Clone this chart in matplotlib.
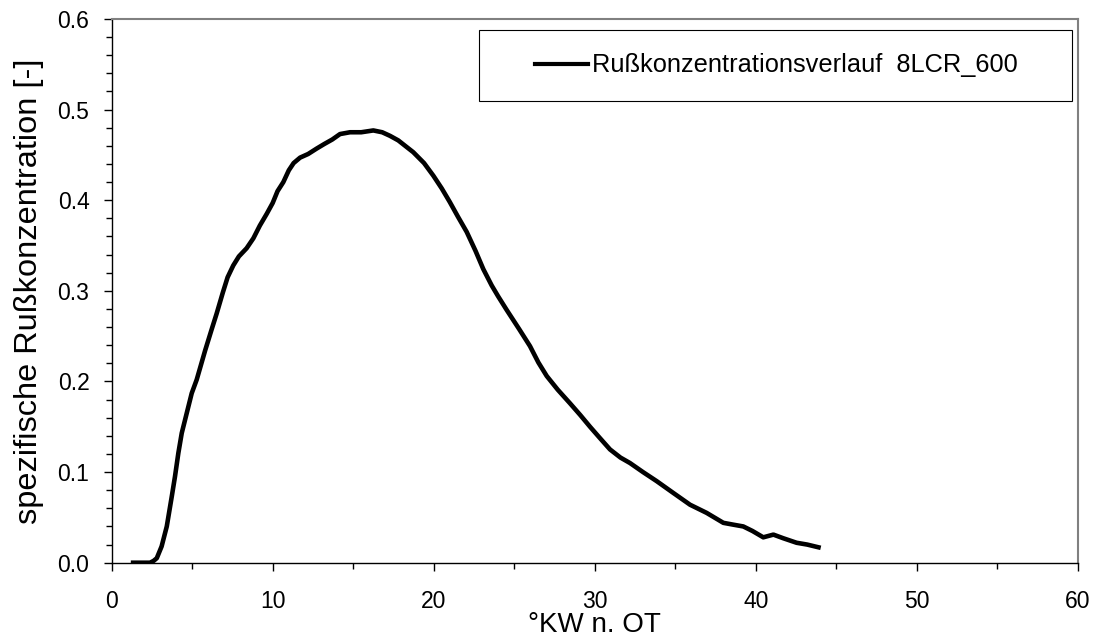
import matplotlib
matplotlib.use('Agg')
import matplotlib.pyplot as plt
from matplotlib.patches import Rectangle
from matplotlib.ticker import MultipleLocator, FormatStrFormatter

# Rußkonzentrationsverlauf 8LCR_600
kw = [1.33, 2.38, 2.6, 2.8, 3.1, 3.42, 3.73, 3.93, 4.14, 4.35, 4.66, 4.97,
      5.28, 5.8, 6.2, 6.52, 6.9, 7.2, 7.55, 7.9, 8.38, 8.8, 9.2, 9.63, 10.0,
      10.3, 10.66, 11.0, 11.3, 11.7, 12.2, 12.73, 13.2, 13.7, 14.18, 14.8,
      15.5, 16.25, 16.8, 17.29, 17.8, 18.3, 18.73, 19.4, 19.98, 20.5, 21.0,
      21.5, 22.05, 22.6, 23.08, 23.6, 24.0, 24.53, 25.3, 25.98, 26.5, 27.02,
      27.7, 28.46, 29.1, 29.71, 30.3, 30.95, 31.6, 32.19, 33.0, 33.85, 34.88,
      35.92, 36.95, 37.99, 38.6, 39.23, 39.8, 40.47, 41.1, 41.71, 42.54, 43.2,
      43.9]
russ = [0.0, 0.0, 0.002, 0.005, 0.018, 0.04, 0.073, 0.095, 0.121, 0.143,
        0.165, 0.187, 0.202, 0.234, 0.257, 0.275, 0.298, 0.315, 0.328, 0.338,
        0.347, 0.358, 0.372, 0.385, 0.397, 0.41, 0.42, 0.433, 0.441, 0.447,
        0.451, 0.457, 0.462, 0.467, 0.473, 0.475, 0.475, 0.477, 0.475, 0.471,
        0.466, 0.459, 0.453, 0.441, 0.427, 0.413, 0.398, 0.382, 0.365, 0.344,
        0.324, 0.306, 0.294, 0.279, 0.258, 0.239, 0.221, 0.206, 0.191, 0.176,
        0.163, 0.150, 0.138, 0.125, 0.116, 0.110, 0.100, 0.090, 0.077, 0.064,
        0.055, 0.044, 0.042, 0.040, 0.035, 0.028, 0.031, 0.027, 0.022, 0.020,
        0.017]
series_label = 'Rußkonzentrationsverlauf  8LCR_600'

plt.rcParams['font.family'] = ['Liberation Sans', 'DejaVu Sans']

fig = plt.figure(figsize=(10.93, 6.39), dpi=100)
ax = fig.add_axes([0.1022, 0.1194, 0.8838, 0.8509])

ax.plot(kw, russ, '-', color='black', lw=3.3, label=series_label,
        solid_joinstyle='round')

ax.set_xlim(0, 60)
ax.set_ylim(0, 0.6)
ax.xaxis.set_major_locator(MultipleLocator(10))
ax.xaxis.set_minor_locator(MultipleLocator(5))
ax.yaxis.set_major_locator(MultipleLocator(0.1))
ax.yaxis.set_minor_locator(MultipleLocator(0.02))
ax.yaxis.set_major_formatter(FormatStrFormatter('%.1f'))

ax.tick_params(which='both', direction='out', color='black', width=1.0,
               top=False, right=False)
ax.tick_params(which='major', length=6, labelsize=16.5)
ax.tick_params(which='minor', length=4)
ax.tick_params(axis='x', which='major', pad=14)
ax.tick_params(axis='y', which='major', pad=10)

for side in ('top', 'right'):
    ax.spines[side].set_color('#808080')
    ax.spines[side].set_linewidth(1.5)
for side in ('left', 'bottom'):
    ax.spines[side].set_color('black')
    ax.spines[side].set_linewidth(1.0)

ax.set_xlabel('°KW n. OT', fontsize=20, labelpad=-1)
ax.set_ylabel('spezifische Rußkonzentration [-]', fontsize=23.4, labelpad=10)

# legend frame drawn separately so it can span the box width
ax.add_patch(Rectangle((0.380, 0.849), 0.614, 0.131, transform=ax.transAxes,
                       fill=False, edgecolor='black', lw=0.8, zorder=4))
leg = ax.legend(loc='center', bbox_to_anchor=(0.688, 0.9145), frameon=False,
                fontsize=18.3, handlelength=2.1, handletextpad=0.15)
for h in leg.get_lines():
    h.set_linewidth(3.0)

fig.savefig('out.png', dpi=100, facecolor='white')
